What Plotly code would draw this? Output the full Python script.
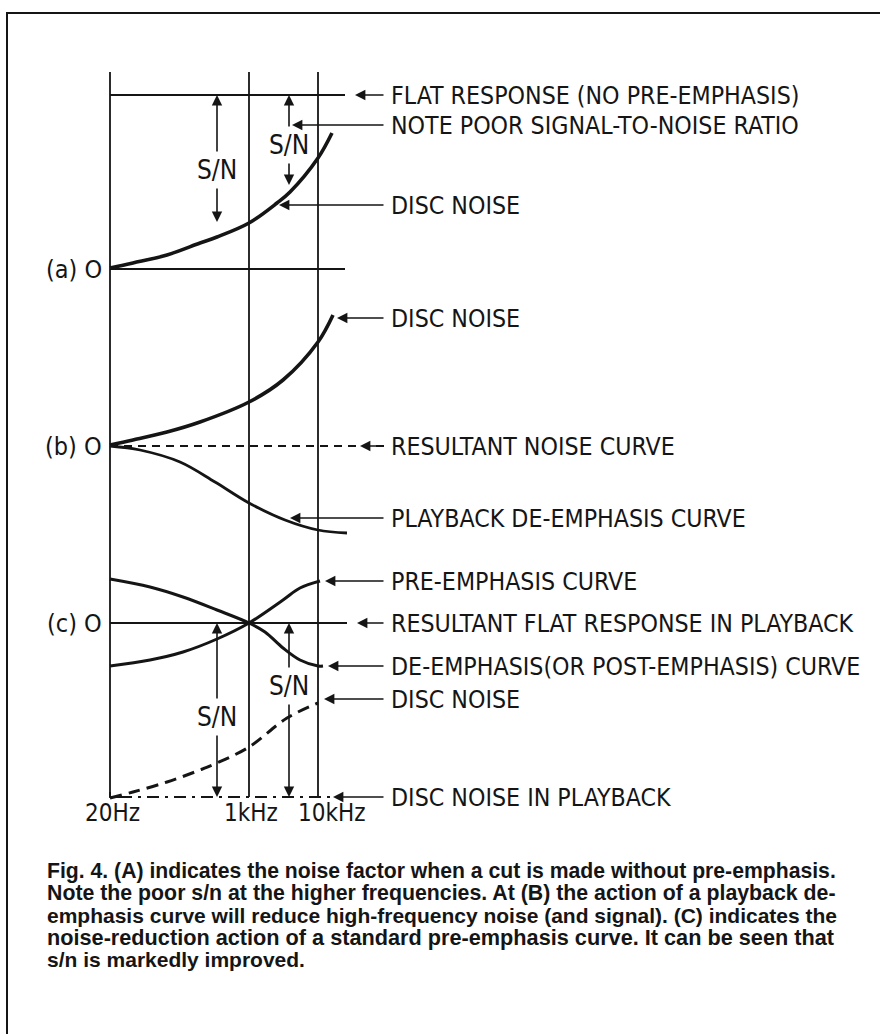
import plotly.graph_objects as go

# ---------------- data (diagram units; x to the right, y downwards) ----------------
freq_labels = ["20Hz", "1kHz", "10kHz"]
freq_x = [110, 249, 318]           # frequency gridlines
grid_top, grid_bottom = 72, 797

zero_a, zero_b, zero_c = 269, 446, 623   # panel zero levels
flat_a = 95                               # flat response level in (a)
floor_c = 797                             # disc noise in playback level

# (a) disc noise : level above zero_a
noise_a_x = [110, 133, 167, 200, 217, 249, 277, 290, 318, 332]
noise_a_lvl = [1, 6, 14, 26, 32, 46, 66, 77, 111, 136]
# (b) disc noise : level above zero_b
noise_b_x = [110, 133, 167, 200, 249, 283, 318, 333]
noise_b_lvl = [1, 6, 14, 24, 44, 66, 104, 131]
# (b) playback de-emphasis : level above zero_b
deemph_b_x = [110, 140, 180, 215, 249, 285, 318, 347]
deemph_b_lvl = [0, -4, -16, -36, -57, -74, -84, -87]
# (c) pre-emphasis : level above zero_c
pre_c_x = [110, 150, 183, 217, 249, 283, 300, 320]
pre_c_lvl = [-43, -37, -29, -16, 0, 23, 35, 42]
# (c) de-emphasis : level above zero_c
de_c_x = [110, 150, 183, 217, 249, 265, 283, 300, 318, 323]
de_c_lvl = [44, 36, 26, 13, 0, -9, -25, -37, -43, -43]
# (c) disc noise (dashed) : level above floor_c
noise_c_x = [110, 133, 167, 200, 217, 249, 287, 318]
noise_c_lvl = [-1, 5, 15, 27, 34, 50, 79, 94]

# right-hand labels: text, level, arrow tip x
labels = [
    ("FLAT RESPONSE (NO PRE-EMPHASIS)", 95, 355),
    ("NOTE POOR SIGNAL-TO-NOISE RATIO", 125, 292),
    ("DISC NOISE", 205, 279),
    ("DISC NOISE", 318, 337),
    ("RESULTANT NOISE CURVE", 446, 360),
    ("PLAYBACK DE-EMPHASIS CURVE", 518, 290),
    ("PRE-EMPHASIS CURVE", 581, 325),
    ("RESULTANT FLAT RESPONSE IN PLAYBACK", 623, 357),
    ("DE-EMPHASIS(OR POST-EMPHASIS) CURVE", 666, 328),
    ("DISC NOISE", 699, 324),
    ("DISC NOISE IN PLAYBACK", 797, 333),
]
label_tail_x = 385
label_text_x = 389

# S/N dimension arrows: x, top, bottom, text y
sn_arrows = [
    (217, 95, 222, 170),
    (289, 95, 185, 145),
    (217, 623, 797, 717),
    (289, 623, 797, 686),
]

panel_labels = [("(a) O", zero_a), ("(b) O", zero_b), ("(c) O", zero_c)]

caption_lines = [
    "Fig. 4. (A) indicates the noise factor when a cut is made without pre-emphasis.",
    "Note the poor s/n at the higher frequencies. At (B) the action of a playback de-",
    "emphasis curve will reduce high-frequency noise (and signal). (C) indicates the",
    "noise-reduction action of a standard pre-emphasis curve. It can be seen that",
    "s/n is markedly improved.",
]
caption_y = [871, 893, 915, 937, 959]
caption_size = [21.2, 21.3, 21.0, 21.7, 21.0]   # per-line size to mimic justified setting

# ---------------- figure ----------------
INK = "#151515"
LET = "Liberation Sans Narrow, DejaVu Sans Condensed, Arial Narrow, sans-serif"
fig = go.Figure()


def line(xs, ys, width=2, dash="solid", shape="linear"):
    fig.add_trace(go.Scatter(x=xs, y=ys, mode="lines", hoverinfo="skip",
                             line=dict(color=INK, width=width, dash=dash, shape=shape)))


# frame
line([7, 7, 880], [1034, 13, 13], width=2)
# gridlines
for fx in freq_x:
    line([fx, fx], [grid_top, grid_bottom], width=1.8)
line([110, 110, 120], [grid_bottom - 5, grid_bottom, grid_bottom], width=1.8)
# horizontal reference lines
line([110, 345], [flat_a, flat_a], width=1.8)
line([110, 345], [zero_a, zero_a], width=1.8)
line([110, 385], [zero_b, zero_b], width=1.8, dash="8px,6px")
line([110, 347], [zero_c, zero_c], width=1.8)
line([120, 330], [floor_c, floor_c], width=1.8, dash="12px,6px,3px,6px")

# curves
line(noise_a_x, [zero_a - v for v in noise_a_lvl], width=3.6, shape="spline")
line(noise_b_x, [zero_b - v for v in noise_b_lvl], width=3.6, shape="spline")
line(deemph_b_x, [zero_b - v for v in deemph_b_lvl], width=2.8, shape="spline")
line(pre_c_x, [zero_c - v for v in pre_c_lvl], width=3, shape="spline")
line(de_c_x, [zero_c - v for v in de_c_lvl], width=3, shape="spline")
line(noise_c_x, [floor_c - v for v in noise_c_lvl], width=3, dash="12px,7px", shape="spline")

ann = []
for text, yy, tip in labels:
    ann.append(dict(x=tip, y=yy, ax=label_tail_x, ay=yy, axref="x", ayref="y",
                    xref="x", yref="y", text="", showarrow=True, arrowhead=2,
                    arrowsize=1.3, arrowwidth=1.6, arrowcolor=INK))
    ann.append(dict(x=label_text_x, y=yy, xref="x", yref="y", text=text, showarrow=False,
                    xanchor="left", yanchor="middle",
                    font=dict(family=LET, size=24.7, color=INK)))

for sx, top, bot, ty in sn_arrows:
    ann.append(dict(x=sx, y=top, ax=sx, ay=ty - 17, axref="x", ayref="y", xref="x", yref="y",
                    text="", showarrow=True, arrowhead=2, arrowsize=1.3, arrowwidth=1.6,
                    arrowcolor=INK))
    ann.append(dict(x=sx, y=bot, ax=sx, ay=ty + 17, axref="x", ayref="y", xref="x", yref="y",
                    text="", showarrow=True, arrowhead=2, arrowsize=1.3, arrowwidth=1.6,
                    arrowcolor=INK))
    ann.append(dict(x=sx, y=ty, xref="x", yref="y", text="S/N", showarrow=False,
                    xanchor="center", yanchor="middle",
                    font=dict(family=LET, size=26, color=INK)))

for text, yy in panel_labels:
    ann.append(dict(x=104, y=yy, xref="x", yref="y", text=text, showarrow=False,
                    xanchor="right", yanchor="middle",
                    font=dict(family=LET, size=25, color=INK)))

tick_centres = [112, 251, 332]
for lab, cx in zip(freq_labels, tick_centres):
    ann.append(dict(x=cx, y=813, xref="x", yref="y", text=lab, showarrow=False,
                    xanchor="center", yanchor="middle",
                    font=dict(family=LET, size=24, color=INK)))

for txt, yy, fs in zip(caption_lines, caption_y, caption_size):
    ann.append(dict(x=45, y=yy, xref="x", yref="y", text="<b>" + txt + "</b>",
                    showarrow=False, xanchor="left", yanchor="middle",
                    font=dict(family="Liberation Sans, Arial, sans-serif", size=fs, color=INK)))

fig.update_layout(
    width=880, height=1034, margin=dict(l=0, r=0, t=0, b=0),
    paper_bgcolor="white", plot_bgcolor="white", showlegend=False,
    xaxis=dict(range=[0, 880], visible=False, fixedrange=True),
    yaxis=dict(range=[1034, 0], visible=False, fixedrange=True),
    annotations=ann,
)
fig.write_html("out.html", config={"displayModeBar": False},
               post_script="document.body.style.margin='0';document.body.style.overflow='hidden';")
